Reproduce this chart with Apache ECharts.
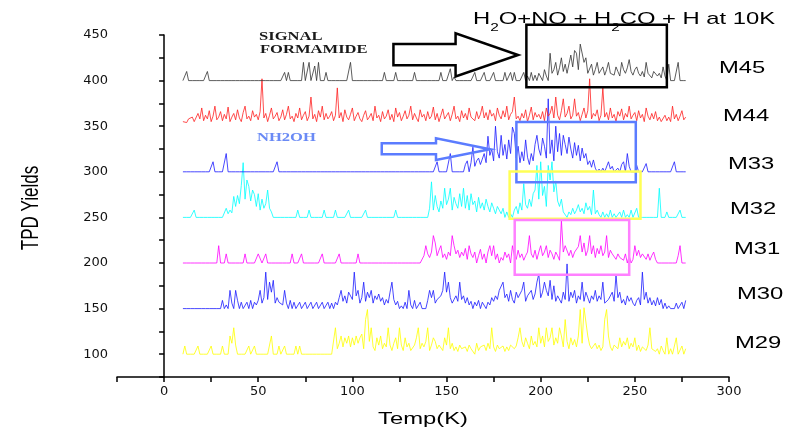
<!DOCTYPE html>
<html>
<head>
<meta charset="utf-8">
<script src="https://cdn.jsdelivr.net/npm/echarts@6/dist/echarts.min.js"></script>
<style>
html,body{margin:0;padding:0;background:#fff;}
#chart{width:791px;height:435px;}
</style>
</head>
<body>
<div id="chart"></div>
<script>
// one value per kelvin, starting at 10 K (height above each trace's baseline)
var tStart = 10;
var seriesNames = ['M29','M30','M31','M32','M33','M44','M45'];
var baselines = [100,150,200,250,300,352,400];
var xTicks = [0,50,100,150,200,250,300];
var yTicks = [100,150,200,250,300,350,400,450];

var m45 = [
 0,0,10,0,0,0,0,0,0,0,  0,0,0,10,0,0,0,0,0,0,  0,0,0,0,0,0,0,0,0,0,
 0,0,0,0,0,0,0,0,0,0,  0,0,0,0,0,0,0,0,0,0,  0,0,0,0,9,0,9,0,0,0,
 0,0,0,0,20,0,0,20,0,0,  16,0,20,0,0,0,9,0,0,0,  0,0,0,0,0,0,0,0,0,20,
 0,0,0,0,0,0,0,0,0,0,  0,0,0,0,0,0,0,9,0,0,  0,0,0,9,0,0,0,0,0,0,
 0,0,0,9,0,0,0,0,0,0,  0,0,0,0,0,0,0,9,0,0,  0,0,13,0,4,0,0,0,0,0,
 0,0,0,0,0,9,0,0,0,0,  9,0,0,0,0,9,0,0,0,0,  0,9,0,0,9,0,9,0,0,0,
 0,9,0,5,0,9,0,6,0,8,  4,0,12,5,0,30,8,12,20,6,  14,25,10,18,8,6,28,15,33,30,
 12,40,42,20,25,8,10,18,6,12,  20,8,10,15,6,12,20,8,10,6,  15,10,5,20,12,8,14,23,10,6,
 12,15,8,5,10,4,20,8,6,3,  10,10,5,8,3,15,5,0,18,0,  0,0,0,20,0,0,0,0
];
var m44 = [
 3,5,2,6,4,8,3,5,12,6,  18,4,10,6,15,3,9,20,5,8,  14,4,11,6,19,3,8,12,5,16,
 7,3,13,20,6,9,4,15,8,11,  5,14,50,7,12,3,10,18,6,9,  13,4,8,16,5,11,20,6,9,3,
 12,7,18,5,10,14,4,9,30,6,  11,3,15,8,20,5,12,6,9,14,  4,10,40,7,13,3,16,8,5,11,
 18,4,9,13,6,3,10,15,5,8,  12,4,20,7,10,3,14,6,9,16,  5,11,3,18,8,13,4,9,15,6,
 10,20,5,12,7,3,16,8,11,4,  14,6,9,19,5,12,3,10,17,6,  8,13,4,11,20,6,9,3,15,7,
 12,5,18,8,10,4,14,6,11,20,  7,13,5,16,9,12,4,18,10,6,  15,8,20,5,11,14,30,6,9,4,
 12,7,16,3,10,19,5,13,8,11,  6,14,4,18,9,12,20,7,30,10,  5,15,28,8,12,20,6,10,28,9,
 13,4,11,18,7,15,50,6,12,9,  16,4,10,40,8,13,5,18,7,11,  3,14,9,17,5,12,8,20,6,10,
 13,4,15,7,11,3,18,9,5,12,  6,14,4,8,3,5,10,4,8,3,  20,6,11,4,9,15,5,8
];
var m33 = [
 0,0,0,0,0,0,0,0,0,0,  0,0,0,0,0,0,11,0,0,0,  0,0,0,20,0,0,0,0,0,0,
 0,0,0,0,0,0,0,0,0,0,  0,0,0,0,0,0,0,0,0,0,  11,0,0,0,0,0,0,0,0,0,
 0,0,0,0,0,0,0,0,0,0,  0,0,0,0,0,0,0,0,0,0,  0,0,0,0,0,0,0,0,0,0,
 0,0,0,0,0,0,0,0,0,0,  0,0,0,0,0,0,0,0,0,0,  0,0,0,0,0,0,0,0,0,0,
 0,0,0,0,0,0,0,0,0,0,  0,0,0,0,0,11,0,0,0,0,  0,0,20,0,0,0,0,0,0,0,
 8,12,0,10,27,6,12,15,8,14,  20,10,39,18,25,12,50,22,15,40,  18,30,14,35,20,49,42,15,28,10,
 22,12,35,16,8,20,12,30,40,25,  18,37,28,15,80,20,35,12,50,22,  42,18,40,30,20,38,25,15,32,18,
 29,12,26,15,20,8,12,5,13,4,  0,3,0,4,0,0,11,3,6,0,  0,4,0,8,11,0,20,6,0,0,
 0,7,0,0,0,0,9,0,0,0,  0,0,0,0,0,0,0,0,0,0,  0,11,0,0,0,0,0,0
];
var m32 = [
 0,0,0,0,0,0,8,0,0,0,  0,0,0,0,0,0,0,0,0,0,  0,0,0,10,4,8,5,23,12,24,
 15,35,60,20,41,34,18,30,25,12,  26,8,20,10,15,30,10,6,0,0,  0,0,0,0,0,0,0,0,0,0,
 0,8,0,0,0,0,0,8,0,0,  0,0,0,0,0,8,0,0,0,0,  0,8,0,0,0,0,0,0,8,0,
 0,0,0,0,0,0,0,8,0,0,  0,0,0,0,0,0,0,0,0,0,  0,0,0,8,0,0,0,0,0,0,
 0,0,0,0,0,0,0,0,0,0,  0,10,39,8,24,12,6,18,10,32,  14,20,32,8,22,15,10,26,12,32,
 10,24,8,26,14,18,6,22,10,16,  8,20,12,6,16,10,4,12,8,4,  10,0,6,0,4,0,8,12,4,16,
 8,37,14,10,20,12,26,30,57,20,  61,24,34,12,57,41,61,28,40,18,  12,20,6,8,0,6,3,10,4,8,
 14,6,10,4,16,8,12,3,30,4,  8,3,0,6,0,4,0,8,0,4,  0,0,6,0,8,0,3,0,8,0,
 0,10,0,0,0,0,0,0,0,0,  0,0,0,32,0,0,0,6,0,0,  0,0,0,0,8,0,0,0
];
var m31 = [
 0,0,0,0,0,0,0,0,0,0,  0,0,0,0,0,0,0,0,0,19,  0,0,0,10,0,0,0,0,0,0,
 0,0,0,10,0,0,0,0,0,0,  10,8,0,0,10,0,0,0,0,0,  0,0,0,0,0,0,0,0,10,0,
 0,0,0,10,0,0,0,0,0,0,  0,0,0,0,10,0,0,0,0,0,  0,0,0,10,0,0,0,0,0,0,
 0,0,0,10,0,0,0,0,0,0,  0,0,0,0,0,0,0,0,0,0,  0,0,0,0,0,0,0,0,0,0,
 0,0,0,0,0,0,0,0,8,19,  10,6,12,30,22,8,14,19,6,10,  4,12,8,30,19,10,14,6,12,8,
 16,4,19,10,6,12,0,8,15,4,  10,0,12,19,8,19,4,10,0,6,  3,12,6,10,0,19,8,4,14,6,
 10,3,8,12,30,10,6,14,4,12,  19,8,12,19,6,14,10,4,12,8,  3,47,12,19,20,8,14,6,12,10,
 18,30,12,22,8,14,30,10,19,6,  16,10,19,8,12,30,6,14,10,8,  4,10,6,8,3,10,0,8,0,4,
 19,8,14,6,10,8,4,10,3,8,  12,4,0,0,0,0,0,0,0,0,  0,0,0,8,19,0,0,0
];
var m30 = [
 0,0,0,0,0,0,0,0,0,0,  0,0,0,0,0,0,0,0,0,0,  0,9,0,4,0,20,6,0,20,9,
 0,7,0,0,7,0,9,0,7,4,  9,20,6,12,40,10,29,18,31,6,  12,7,9,4,20,6,0,9,0,7,
 0,0,7,0,0,7,0,0,7,0,  0,7,0,0,7,0,0,7,0,6,  0,7,4,12,20,8,14,6,18,20,
 10,40,14,20,6,12,29,8,18,12,  20,6,14,10,16,8,12,4,10,6,  18,29,10,4,8,0,3,0,7,0,
 20,4,0,9,0,0,7,0,0,0,  9,20,12,20,6,10,8,14,20,40,  18,29,12,6,10,14,8,29,10,14,
 6,12,4,8,0,7,3,9,0,7,  9,0,7,4,12,8,14,10,20,18,  29,12,16,8,20,10,6,18,12,10,
 20,29,8,14,12,20,10,16,29,38,  12,18,29,20,14,31,10,25,8,14,  12,6,18,10,49,8,18,12,20,6,
 14,10,29,8,18,12,6,14,10,20,  8,14,10,29,6,4,10,12,18,8,  37,12,18,6,10,4,14,8,12,6,
 3,9,12,4,40,10,18,6,12,4,  9,3,12,4,10,0,6,0,3,0,  0,0,6,0,0,7,0,9
];
var m29 = [
 0,9,0,0,0,0,0,0,9,0,  0,0,0,0,0,9,0,0,0,0,  0,9,0,0,0,20,12,29,10,0,
 0,0,0,0,0,9,0,0,9,0,  0,0,0,0,0,0,0,20,0,0,  0,9,0,0,9,0,0,0,0,0,
 9,0,9,0,0,0,0,0,0,0,  0,0,0,0,0,0,0,0,0,0,  0,29,6,12,20,8,18,12,20,8,
 18,10,20,12,18,22,6,38,49,14,  29,8,4,18,10,20,6,12,8,29,  10,4,12,18,6,29,10,4,18,8,
 12,4,3,10,18,29,6,12,8,14,  29,4,10,18,14,6,10,12,4,18,  10,29,6,12,4,8,3,10,6,4,
 8,3,10,6,4,0,12,4,8,6,  10,4,12,6,29,8,3,10,6,4,  9,3,8,4,10,12,6,9,18,29,
 14,8,18,12,6,20,10,14,8,29,  12,20,8,29,14,18,29,10,18,12,  29,20,8,38,14,6,18,10,16,8,
 20,49,12,51,49,20,10,6,4,12,  6,10,4,8,38,49,20,8,4,10,  12,6,18,8,14,10,18,6,12,8,
 18,4,10,3,8,6,4,10,29,6,  8,3,6,0,9,4,0,18,0,6,  0,9,18,0,0,9,0,6
];

var traces = [m29, m30, m31, m32, m33, m44, m45];
var colors = ['#ffff00','#1a1aff','#ff00ff','#00ffff','#1a1aff','#ff2020','#333333'];
var stretch = 1.4; // the original figure is stretched sideways

var myChart = echarts.init(document.getElementById('chart'));

var series = traces.map(function(tr, k){
	return {
		type: 'line',
		name: seriesNames[k],
		data: tr.map(function(h, i){ return [tStart + i, baselines[k] + h]; }),
		showSymbol: false,
		symbol: 'none',
		lineStyle: { color: colors[k], width: 0.8 },
		itemStyle: { color: colors[k] },
		silent: true,
		z: 2 + k
	};
});

var axisFont = { fontFamily: 'DejaVu Sans', fontSize: 13, color: '#111' };

myChart.setOption({
	animation: false,
	backgroundColor: '#fff',
	grid: { left: 117, right: 62, top: 35, bottom: 58 },
	xAxis: {
		type: 'value', min: -25, max: 300, interval: 25,
		axisLine: { lineStyle: { color: '#000', width: 1.5 } },
		axisTick: { length: 5, lineStyle: { color: '#000', width: 1.5 } },
		axisLabel: {
			fontFamily: axisFont.fontFamily, fontSize: axisFont.fontSize, color: axisFont.color, margin: 8,
			formatter: function(v){ return xTicks.indexOf(v) >= 0 ? String(v) : ''; }
		},
		splitLine: { show: false }
	},
	yAxis: {
		type: 'value', min: 75, max: 450, interval: 25,
		axisLine: { show: true, lineStyle: { color: '#000', width: 1.5 } },
		axisTick: { show: true, length: 5, lineStyle: { color: '#000', width: 1.5 } },
		axisLabel: {
			fontFamily: axisFont.fontFamily, fontSize: axisFont.fontSize, color: axisFont.color, margin: 9,
			formatter: function(v){ return yTicks.indexOf(v) >= 0 ? String(v) : ''; }
		},
		splitLine: { show: false }
	},
	series: series
});

// ---- annotations (boxes, arrows, texts) ----
function px(p){ return myChart.convertToPixel({ gridIndex: 0 }, p); }
function box(x0, x1, y0, y1, color, w){
	var a = px([x0, y1]), b = px([x1, y0]);
	return { type: 'rect', z: 100, shape: { x: a[0], y: a[1], width: b[0] - a[0], height: b[1] - a[1] },
		style: { fill: 'none', stroke: color, lineWidth: w } };
}
function arrow(xs, ys, color, w){
	// xs: tail, head base, tip ; ys: head top, shaft top, tip, shaft bottom, head bottom
	var pts = [[xs[0], ys[1]], [xs[1], ys[1]], [xs[1], ys[0]], [xs[2], ys[2]],
		[xs[1], ys[4]], [xs[1], ys[3]], [xs[0], ys[3]]].map(px);
	return { type: 'polygon', z: 100, shape: { points: pts },
		style: { fill: 'none', stroke: color, lineWidth: w } };
}
var meas = document.createElement('canvas').getContext('2d');
function textW(str, size, family){ meas.font = size + 'px "' + family + '"'; return meas.measureText(str).width; }
function label(str, x, y, size, opt){
	opt = opt || {};
	return { type: 'text', z: 100, x: x, y: y, scaleX: opt.scaleX || stretch,
		style: { text: str, fontSize: size, fontFamily: opt.family || 'Liberation Sans',
			fontWeight: opt.weight || 'normal', fill: opt.color || '#000',
			align: opt.align || 'left', verticalAlign: 'middle' } };
}

// title with subscripts
var titleParts = [['H', 0], ['2', 1], ['O+NO + H', 0], ['2', 1], ['CO + H at 10K', 0]];
var titleKids = [], cx = 0;
titleParts.forEach(function(p){
	var size = p[1] ? 11 : 17;
	titleKids.push({ type: 'text', x: cx, y: p[1] ? 9 : 0,
		style: { text: p[0], fontSize: size, fontFamily: 'Liberation Sans', fill: '#000', verticalAlign: 'middle' } });
	cx += textW(p[0], size, 'Liberation Sans');
});

var graphics = [
	box(192.4, 267, 392.7, 461.2, '#000', 2.5),
	box(187.1, 250.5, 288.6, 354.6, '#5b7cff', 2.5),
	box(183.5, 253, 248.4, 300.4, '#ffff55', 2.5),
	box(186.2, 247, 187, 247.2, '#ff80ff', 2.5),
	arrow([121.8, 154.8, 188], [451.8, 440.1, 428.1, 416.7, 404.6], '#000', 2.5),
	arrow([115.6, 144.4, 173.1], [336.7, 331.3, 324.7, 319.2, 312.9], '#5b7cff', 2.5),
	{ type: 'group', x: 473, y: 19, scaleX: stretch, z: 100, children: titleKids },
	label('SIGNAL', 259, 37, 12, { family: 'Liberation Serif', weight: 'bold', color: '#1a1a1a', scaleX: 1.38 }),
	label('FORMAMIDE', 260, 50, 12, { family: 'Liberation Serif', weight: 'bold', color: '#1a1a1a', scaleX: 1.38 }),
	label('NH2OH', 257, 138, 12, { family: 'Liberation Serif', weight: 'bold', color: '#6a8af5', scaleX: 1.38 }),
	label('M45', 719, 68, 17),
	label('M44', 723, 116, 17),
	label('M33', 728, 164.5, 17),
	label('M32', 730, 209.5, 17),
	label('M31', 734, 249.5, 17),
	label('M30', 737, 294.5, 17),
	label('M29', 735, 343, 17),
	label('Temp(K)', 423, 419, 17, { align: 'center' }),
	{ type: 'text', z: 100, x: 31, y: 208, rotation: Math.PI / 2, scaleY: stretch,
		style: { text: 'TPD Yields', fontSize: 17, fontFamily: 'Liberation Sans', fill: '#000',
			align: 'center', verticalAlign: 'middle' } }
];
myChart.setOption({ graphic: graphics });
</script>
</body>
</html>
